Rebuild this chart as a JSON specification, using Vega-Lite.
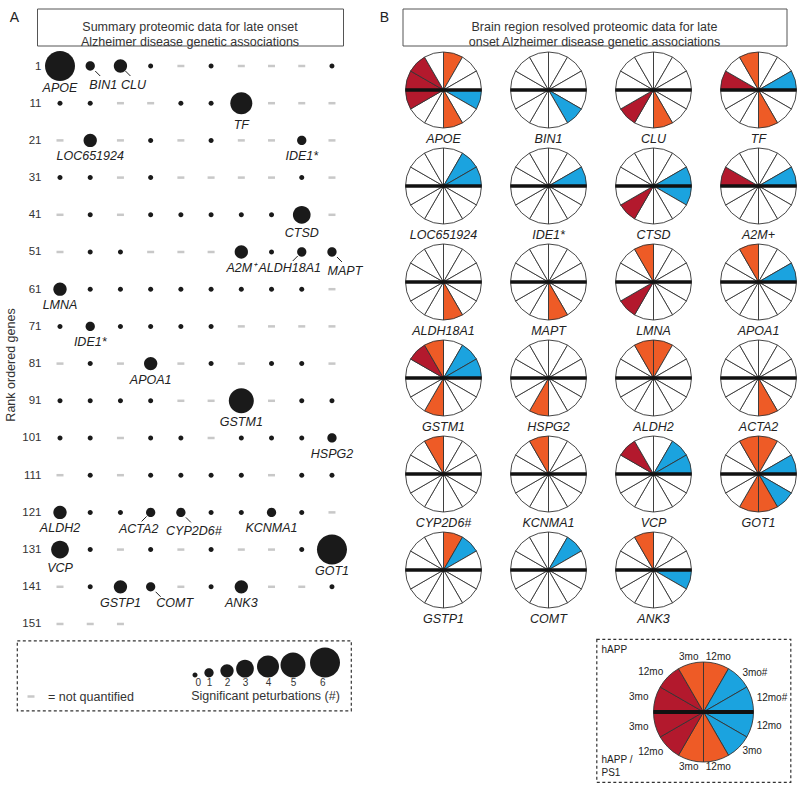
{
"$schema": "https://vega.github.io/schema/vega-lite/v6.json",
"background": "white",
"padding": {"left": 4, "top": 7.5, "right": 3, "bottom": 5},
"config": {"font": "Liberation Sans", "view": {"stroke": null}},
"spacing": 16.5,
"hconcat": [
{
 "spacing": 2,
 "vconcat": [
  {"spacing": 16, "hconcat": [
    {"width": 11, "height": 19, "data": {"values": [{"panel": "A"}]},
     "mark": {"type": "text", "fontSize": 14, "color": "#222"}, "encoding": {"text": {"field": "panel"}}},
    {"width": 306, "height": 37, "view": {"stroke": "#555", "strokeWidth": 1},
     "data": {"values": [{"heading": "Summary proteomic data for late onset\nAlzheimer disease genetic associations"}]},
     "mark": {"type": "text", "lineBreak": "\n", "fontSize": 12.5, "lineHeight": 14.5, "color": "#333"},
     "encoding": {"text": {"field": "heading"}}}
  ]},
  {"width": 333, "height": 585.5,
   "data": {"values": [
    {"rank":1,"n":6,"gene":"APOE","side":"below"},{"rank":2,"n":1,"gene":"BIN1","side":"right"},{"rank":3,"n":2,"gene":"CLU","side":"right"},{"rank":4,"n":0},{"rank":5,"n":null},{"rank":6,"n":0},{"rank":7,"n":null},{"rank":8,"n":null},{"rank":9,"n":null},{"rank":10,"n":0},
    {"rank":11,"n":0},{"rank":12,"n":0},{"rank":13,"n":null},{"rank":14,"n":null},{"rank":15,"n":0},{"rank":16,"n":0},{"rank":17,"n":4,"gene":"TF","side":"below"},{"rank":18,"n":null},{"rank":19,"n":null},{"rank":20,"n":null},
    {"rank":21,"n":null},{"rank":22,"n":2,"gene":"LOC651924","side":"below"},{"rank":23,"n":null},{"rank":24,"n":0},{"rank":25,"n":null},{"rank":26,"n":0},{"rank":27,"n":null},{"rank":28,"n":null},{"rank":29,"n":1,"gene":"IDE1*","side":"below"},{"rank":30,"n":null},
    {"rank":31,"n":0},{"rank":32,"n":0},{"rank":33,"n":null},{"rank":34,"n":0},{"rank":35,"n":null},{"rank":36,"n":null},{"rank":37,"n":null},{"rank":38,"n":null},{"rank":39,"n":0},{"rank":40,"n":null},
    {"rank":41,"n":null},{"rank":42,"n":0},{"rank":43,"n":null},{"rank":44,"n":0},{"rank":45,"n":0},{"rank":46,"n":0},{"rank":47,"n":0},{"rank":48,"n":0},{"rank":49,"n":3,"gene":"CTSD","side":"below"},{"rank":50,"n":null},
    {"rank":51,"n":null},{"rank":52,"n":0},{"rank":53,"n":0},{"rank":54,"n":null},{"rank":55,"n":null},{"rank":56,"n":null},{"rank":57,"n":2,"gene":"A2M⁺","side":"below"},{"rank":58,"n":0},{"rank":59,"n":1,"gene":"ALDH18A1","side":"left"},{"rank":60,"n":1,"gene":"MAPT","side":"right"},
    {"rank":61,"n":2,"gene":"LMNA","side":"below"},{"rank":62,"n":0},{"rank":63,"n":0},{"rank":64,"n":0},{"rank":65,"n":0},{"rank":66,"n":0},{"rank":67,"n":0},{"rank":68,"n":0},{"rank":69,"n":0},{"rank":70,"n":null},
    {"rank":71,"n":0},{"rank":72,"n":1,"gene":"IDE1*","side":"below"},{"rank":73,"n":0},{"rank":74,"n":0},{"rank":75,"n":0},{"rank":76,"n":0},{"rank":77,"n":null},{"rank":78,"n":null},{"rank":79,"n":null},{"rank":80,"n":null},
    {"rank":81,"n":null},{"rank":82,"n":0},{"rank":83,"n":null},{"rank":84,"n":2,"gene":"APOA1","side":"below"},{"rank":85,"n":null},{"rank":86,"n":0},{"rank":87,"n":null},{"rank":88,"n":0},{"rank":89,"n":0},{"rank":90,"n":null},
    {"rank":91,"n":0},{"rank":92,"n":0},{"rank":93,"n":0},{"rank":94,"n":0},{"rank":95,"n":null},{"rank":96,"n":null},{"rank":97,"n":5,"gene":"GSTM1","side":"below"},{"rank":98,"n":null},{"rank":99,"n":0},{"rank":100,"n":0},
    {"rank":101,"n":0},{"rank":102,"n":0},{"rank":103,"n":null},{"rank":104,"n":0},{"rank":105,"n":0},{"rank":106,"n":null},{"rank":107,"n":0},{"rank":108,"n":0},{"rank":109,"n":0},{"rank":110,"n":1,"gene":"HSPG2","side":"below"},
    {"rank":111,"n":null},{"rank":112,"n":0},{"rank":113,"n":null},{"rank":114,"n":0},{"rank":115,"n":0},{"rank":116,"n":0},{"rank":117,"n":0},{"rank":118,"n":null},{"rank":119,"n":0},{"rank":120,"n":0},
    {"rank":121,"n":2,"gene":"ALDH2","side":"below"},{"rank":122,"n":0},{"rank":123,"n":0},{"rank":124,"n":1,"gene":"ACTA2","side":"left"},{"rank":125,"n":1,"gene":"CYP2D6#","side":"right"},{"rank":126,"n":0},{"rank":127,"n":0},{"rank":128,"n":1,"gene":"KCNMA1","side":"below"},{"rank":129,"n":0},{"rank":130,"n":null},
    {"rank":131,"n":3,"gene":"VCP","side":"below"},{"rank":132,"n":0},{"rank":133,"n":null},{"rank":134,"n":0},{"rank":135,"n":null},{"rank":136,"n":0},{"rank":137,"n":null},{"rank":138,"n":null},{"rank":139,"n":0},{"rank":140,"n":6,"gene":"GOT1","side":"below"},
    {"rank":141,"n":null},{"rank":142,"n":0},{"rank":143,"n":2,"gene":"GSTP1","side":"below"},{"rank":144,"n":1,"gene":"COMT","side":"far right"},{"rank":145,"n":null},{"rank":146,"n":0},{"rank":147,"n":2,"gene":"ANK3","side":"below"},{"rank":148,"n":null},{"rank":149,"n":null},{"rank":150,"n":0},
    {"rank":151,"n":null},{"rank":152,"n":null},{"rank":153,"n":null}
   ]},
   "transform": [
    {"calculate": "(datum.rank - 1) % 10 + 1", "as": "col"},
    {"calculate": "datum.rank - (datum.rank - 1) % 10", "as": "row"}
   ],
   "encoding": {
    "x": {"field": "col", "type": "quantitative", "scale": {"domain": [-0.6876, 10.332], "nice": false, "zero": false}, "axis": null},
    "y": {"field": "row", "type": "quantitative", "scale": {"domain": [-2.898, 154.5], "reverse": true, "nice": false, "zero": false},
          "axis": {"offset": -34, "values": [1,11,21,31,41,51,61,71,81,91,101,111,121,131,141,151], "format": "d", "ticks": false, "domain": false, "grid": false,
                   "labelFontSize": 11.5, "labelColor": "#333", "labelPadding": 2,
                   "title": "Rank ordered genes", "titleFontSize": 12.5, "titleFontWeight": "normal", "titleColor": "#333", "titlePadding": 4.5, "titleY": 313}}
   },
   "layer": [
    {"transform": [{"filter": "datum.n === null"}], "mark": {"type": "tick", "orient": "horizontal", "size": 7, "thickness": 2.5, "color": "#c8c8c8", "opacity": 1}},
    {"transform": [{"filter": "datum.n !== null"}], "mark": {"type": "point", "shape": "M1,0A1,1,0,1,1,-1,0A1,1,0,1,1,1,0Z", "filled": true, "color": "#1a1a1a", "opacity": 1, "strokeWidth": 0},
     "encoding": {"size": {"field": "n", "type": "quantitative", "scale": {"domain": [0,1,2,3,4,5,6], "range": [25,86,177,313,484,625,900]}, "legend": null}}},
    {"transform": [{"filter": "datum.side === 'below' && datum.n >= 4"}], "mark": {"type": "text", "fontStyle": "italic", "fontSize": 12.5, "color": "#222", "dy": 21.5}, "encoding": {"text": {"field": "gene"}}},
    {"transform": [{"filter": "datum.side === 'below' && datum.n === 3"}], "mark": {"type": "text", "fontStyle": "italic", "fontSize": 12.5, "color": "#222", "dy": 18}, "encoding": {"text": {"field": "gene"}}},
    {"transform": [{"filter": "datum.side === 'below' && datum.n <= 2"}], "mark": {"type": "text", "fontStyle": "italic", "fontSize": 12.5, "color": "#222", "dy": 16}, "encoding": {"text": {"field": "gene"}}},
    {"transform": [{"filter": "datum.side === 'right'"}], "mark": {"type": "text", "fontStyle": "italic", "fontSize": 12.5, "color": "#222", "dx": 13, "dy": 19}, "encoding": {"text": {"field": "gene"}}},
    {"transform": [{"filter": "datum.side === 'far right'"}], "mark": {"type": "text", "fontStyle": "italic", "fontSize": 12.5, "color": "#222", "dx": 24, "dy": 16}, "encoding": {"text": {"field": "gene"}}},
    {"transform": [{"filter": "datum.side === 'left'"}], "mark": {"type": "text", "fontStyle": "italic", "fontSize": 12.5, "color": "#222", "dx": -12, "dy": 16.5}, "encoding": {"text": {"field": "gene"}}},
    {"transform": [{"filter": "datum.side === 'right' || datum.side === 'far right'"}], "mark": {"type": "rule", "color": "#222", "strokeWidth": 1, "xOffset": 5, "yOffset": 5, "x2Offset": 10, "y2Offset": 10},
     "encoding": {"x2": {"field": "col"}, "y2": {"field": "row"}}},
    {"transform": [{"filter": "datum.side === 'left'"}], "mark": {"type": "rule", "color": "#222", "strokeWidth": 1, "xOffset": -4, "yOffset": 4, "x2Offset": -9, "y2Offset": 9},
     "encoding": {"x2": {"field": "col"}, "y2": {"field": "row"}}}
   ]
  },
  {"spacing": 6, "hconcat": [
   {"width": 1, "height": 1, "data": {"values": []}, "mark": "point"},
   {"width": 334, "height": 70,
    "view": {"stroke": "#333", "strokeWidth": 1.2, "strokeDash": [3, 2.5]},
    "layer": [
     {"data": {"values": [{"n":0},{"n":1},{"n":2},{"n":3},{"n":4},{"n":5},{"n":6}]},
      "mark": {"type": "point", "shape": "M1,-1A1,1,0,1,1,-1,-1A1,1,0,1,1,1,-1Z", "filled": true, "color": "#1a1a1a", "opacity": 1, "strokeWidth": 0, "yOffset": 2},
      "encoding": {
       "x": {"field": "n", "type": "quantitative", "scale": {"domain": [0,1,2,3,4,5,6], "range": [178,192,210,228,251,276,308]},
             "axis": {"orient": "bottom", "offset": -33, "values": [0,1,2,3,4,5,6], "format": "d", "ticks": false, "domain": false, "grid": false,
                      "labelFontSize": 10, "labelPadding": 0, "labelColor": "#333",
                      "title": "Significant peturbations (#)", "titleFontSize": 12.5, "titleFontWeight": "normal", "titleColor": "#333", "titlePadding": 2, "titleX": 248}},
       "size": {"field": "n", "type": "quantitative", "scale": {"domain": [0,1,2,3,4,5,6], "range": [25,86,177,313,484,625,900]}, "legend": null}
      }},
     {"data": {"values": [{"status": "= not quantified"}]},
      "mark": {"type": "point", "shape": "M-1,0L1,0", "filled": false, "color": "#c8c8c8", "strokeWidth": 2.5, "size": 49, "opacity": 1, "xOffset": -153, "yOffset": 21}},
     {"data": {"values": [{"status": "= not quantified"}]},
      "mark": {"type": "text", "align": "left", "fontSize": 12.5, "color": "#333", "dx": -136, "dy": 21},
      "encoding": {"text": {"field": "status"}}}
    ]}
  ]}
 ]
},
{
 "spacing": 1.5,
 "resolve": {"scale": {"color": "independent", "theta": "independent"}},
 "vconcat": [
  {"spacing": 12, "hconcat": [
    {"width": 10, "height": 19, "data": {"values": [{"panel": "B"}]},
     "mark": {"type": "text", "fontSize": 14, "color": "#222"}, "encoding": {"text": {"field": "panel"}}},
    {"width": 384, "height": 37, "view": {"stroke": "#555", "strokeWidth": 1},
     "data": {"values": [{"heading": "Brain region resolved proteomic data for late\nonset Alzheimer disease genetic associations"}]},
     "mark": {"type": "text", "lineBreak": "\n", "fontSize": 12.5, "lineHeight": 14.5, "color": "#333"},
     "encoding": {"text": {"field": "heading"}}}
  ]},
  {"spacing": 12, "vconcat": [
   {"spacing": 23, "hconcat": [
    {"width": 1, "height": 1, "data": {"values": []}, "mark": "point"},
    {"data": {"values": [
      {"gene":"APOE","rank":1,"sig":["O","-","-","B","-","O","-","-","R","R","R","-"]},
      {"gene":"BIN1","rank":2,"sig":["-","-","-","-","B","-","-","-","-","-","-","-"]},
      {"gene":"CLU","rank":3,"sig":["-","-","-","-","-","O","-","R","-","-","-","-"]},
      {"gene":"TF","rank":17,"sig":["-","-","B","-","-","O","-","-","-","R","-","O"]},
      {"gene":"LOC651924","rank":22,"sig":["-","B","B","-","-","-","-","-","-","-","-","-"]},
      {"gene":"IDE1*","rank":29,"sig":["-","-","B","-","-","-","-","-","-","-","-","-"]},
      {"gene":"CTSD","rank":49,"sig":["-","-","B","B","-","-","-","R","-","-","-","-"]},
      {"gene":"A2M+","rank":57,"sig":["-","-","B","-","-","-","-","-","-","R","-","-"]},
      {"gene":"ALDH18A1","rank":59,"sig":["-","-","-","-","-","O","-","-","-","-","-","-"]},
      {"gene":"MAPT","rank":60,"sig":["-","-","-","-","-","O","-","-","-","-","-","-"]},
      {"gene":"LMNA","rank":61,"sig":["-","-","-","-","-","-","-","R","-","-","-","O"]},
      {"gene":"APOA1","rank":84,"sig":["-","-","B","-","-","-","-","-","-","-","-","O"]},
      {"gene":"GSTM1","rank":97,"sig":["-","B","B","-","-","-","O","-","-","-","R","O"]},
      {"gene":"HSPG2","rank":110,"sig":["-","-","-","-","-","-","O","-","-","-","-","-"]},
      {"gene":"ALDH2","rank":121,"sig":["O","-","-","-","-","-","-","-","-","-","-","O"]},
      {"gene":"ACTA2","rank":124,"sig":["-","-","-","-","-","O","-","-","-","-","-","-"]},
      {"gene":"CYP2D6#","rank":125,"sig":["-","-","-","-","-","-","-","-","-","-","-","O"]},
      {"gene":"KCNMA1","rank":128,"sig":["-","-","-","-","-","-","-","-","-","-","-","O"]},
      {"gene":"VCP","rank":131,"sig":["-","B","B","-","-","-","-","-","-","-","R","-"]},
      {"gene":"GOT1","rank":140,"sig":["O","-","B","-","B","O","O","-","-","-","-","O"]},
      {"gene":"GSTP1","rank":143,"sig":["O","B","-","-","-","-","-","-","-","-","-","-"]},
      {"gene":"COMT","rank":144,"sig":["-","B","-","-","-","-","-","-","-","-","-","-"]},
      {"gene":"ANK3","rank":147,"sig":["-","-","-","B","-","-","-","-","-","-","-","O"]}
     ]},
     "transform": [
      {"flatten": ["sig"]},
      {"window": [{"op": "row_number", "as": "w"}], "groupby": ["gene"]}
     ],
     "facet": {"field": "gene", "type": "nominal", "sort": {"field": "rank", "op": "min"}, "title": null,
               "header": {"labelOrient": "bottom", "labelFontStyle": "italic", "labelFontSize": 12.5, "labelColor": "#222", "labelPadding": 3.5}},
     "columns": 4,
     "spacing": {"row": 0, "column": 25},
     "spec": {
      "width": 76, "height": 76,
      "layer": [
       {"mark": {"type": "arc", "outerRadius": 38, "stroke": "#333", "strokeWidth": 0.9},
        "encoding": {
         "theta": {"aggregate": "count", "type": "quantitative", "stack": true},
         "order": {"field": "w", "type": "quantitative"},
         "color": {"field": "sig", "type": "nominal", "scale": {"domain": ["R","O","B","-"], "range": ["#b3192d","#ee5b26","#1ba3df","#ffffff"]}, "legend": null}
        }},
       {"transform": [{"filter": "datum.w === 1"}],
        "mark": {"type": "rule", "color": "#111", "strokeWidth": 3.5},
        "encoding": {"y": {"datum": 0, "type": "quantitative", "scale": {"domain": [-1, 1], "nice": false, "zero": false}, "axis": null}}}
      ]
     }
    }
   ]},
   {"spacing": 215, "hconcat": [
    {"width": 1, "height": 1, "data": {"values": []}, "mark": "point"},
    {"width": 194, "height": 143,
     "view": {"stroke": "#333", "strokeWidth": 1.2, "strokeDash": [3, 2.5]},
     "data": {"values": [
      {"w":1,"region":"O","cond":"12mo"},{"w":2,"region":"B","cond":"3mo#"},{"w":3,"region":"B","cond":"12mo#"},{"w":4,"region":"B","cond":"12mo"},
      {"w":5,"region":"B","cond":"3mo"},{"w":6,"region":"O","cond":"12mo"},{"w":7,"region":"O","cond":"3mo"},{"w":8,"region":"R","cond":"12mo"},
      {"w":9,"region":"R","cond":"3mo"},{"w":10,"region":"R","cond":"3mo"},{"w":11,"region":"R","cond":"12mo"},{"w":12,"region":"O","cond":"3mo"}
     ]},
     "resolve": {"scale": {"theta": "independent"}},
     "layer": [
      {"mark": {"type": "arc", "outerRadius": 50, "stroke": "#333", "strokeWidth": 0.9},
       "encoding": {
        "x": {"datum": 0, "type": "quantitative", "scale": {"domain": [-2.14, 1.74], "nice": false, "zero": false}, "axis": null},
        "y": {"datum": 0, "type": "quantitative", "scale": {"domain": [-1.4, 1.46], "nice": false, "zero": false}, "axis": null},
        "theta": {"aggregate": "count", "type": "quantitative", "stack": true},
        "order": {"field": "w", "type": "quantitative"},
        "color": {"field": "region", "type": "nominal", "scale": {"domain": ["R","O","B","-"], "range": ["#b3192d","#ee5b26","#1ba3df","#ffffff"]}, "legend": null}
       }},
      {"transform": [{"filter": "datum.w === 1"}],
       "mark": {"type": "rule", "color": "#111", "strokeWidth": 4},
       "encoding": {"x": {"datum": -1, "type": "quantitative"}, "x2": {"datum": 1}, "y": {"datum": 0, "type": "quantitative"}}},
      {"transform": [{"filter": "datum.w >= 2 && datum.w <= 5"}],
       "mark": {"type": "text", "radius": 55, "fontSize": 10, "color": "#222", "align": "left"},
       "encoding": {
        "x": {"datum": 0, "type": "quantitative"}, "y": {"datum": 0, "type": "quantitative"},
        "theta": {"aggregate": "count", "type": "quantitative", "stack": true, "scale": {"range": [0.5236, 2.618]}},
        "order": {"field": "w", "type": "quantitative"},
        "text": {"field": "cond"}
       }},
      {"transform": [{"filter": "datum.w >= 8 && datum.w <= 11"}],
       "mark": {"type": "text", "radius": 57, "fontSize": 10, "color": "#222", "align": "right"},
       "encoding": {
        "x": {"datum": 0, "type": "quantitative"}, "y": {"datum": 0, "type": "quantitative"},
        "theta": {"aggregate": "count", "type": "quantitative", "stack": true, "scale": {"range": [3.6652, 5.7596]}},
        "order": {"field": "w", "type": "quantitative"},
        "text": {"field": "cond"}
       }},
      {"transform": [{"filter": "datum.w === 1 || datum.w === 12"}],
       "mark": {"type": "text", "radius": 57, "fontSize": 10, "color": "#222"},
       "encoding": {
        "x": {"datum": 0, "type": "quantitative"}, "y": {"datum": 0, "type": "quantitative"},
        "theta": {"aggregate": "count", "type": "quantitative", "stack": true, "scale": {"range": [-0.5236, 0.5236]}},
        "order": {"field": "w", "type": "quantitative", "sort": "descending"},
        "text": {"field": "cond"}
       }},
      {"transform": [{"filter": "datum.w === 6 || datum.w === 7"}],
       "mark": {"type": "text", "radius": 57, "fontSize": 10, "color": "#222"},
       "encoding": {
        "x": {"datum": 0, "type": "quantitative"}, "y": {"datum": 0, "type": "quantitative"},
        "theta": {"aggregate": "count", "type": "quantitative", "stack": true, "scale": {"range": [2.618, 3.6652]}},
        "order": {"field": "w", "type": "quantitative"},
        "text": {"field": "cond"}
       }},
      {"transform": [{"filter": "datum.w === 1"}],
       "mark": {"type": "text", "text": "hAPP", "align": "left", "fontSize": 10, "color": "#222"},
       "encoding": {"x": {"datum": -2.04, "type": "quantitative"}, "y": {"datum": 1.24, "type": "quantitative"}}},
      {"transform": [{"filter": "datum.w === 1"}],
       "mark": {"type": "text", "text": "hAPP /", "align": "left", "fontSize": 10, "color": "#222"},
       "encoding": {"x": {"datum": -2.04, "type": "quantitative"}, "y": {"datum": -0.96, "type": "quantitative"}}},
      {"transform": [{"filter": "datum.w === 1"}],
       "mark": {"type": "text", "text": "PS1", "align": "left", "fontSize": 10, "color": "#222"},
       "encoding": {"x": {"datum": -2.04, "type": "quantitative"}, "y": {"datum": -1.22, "type": "quantitative"}}}
     ]}
   ]}
  ]}
 ]
}
]
}
